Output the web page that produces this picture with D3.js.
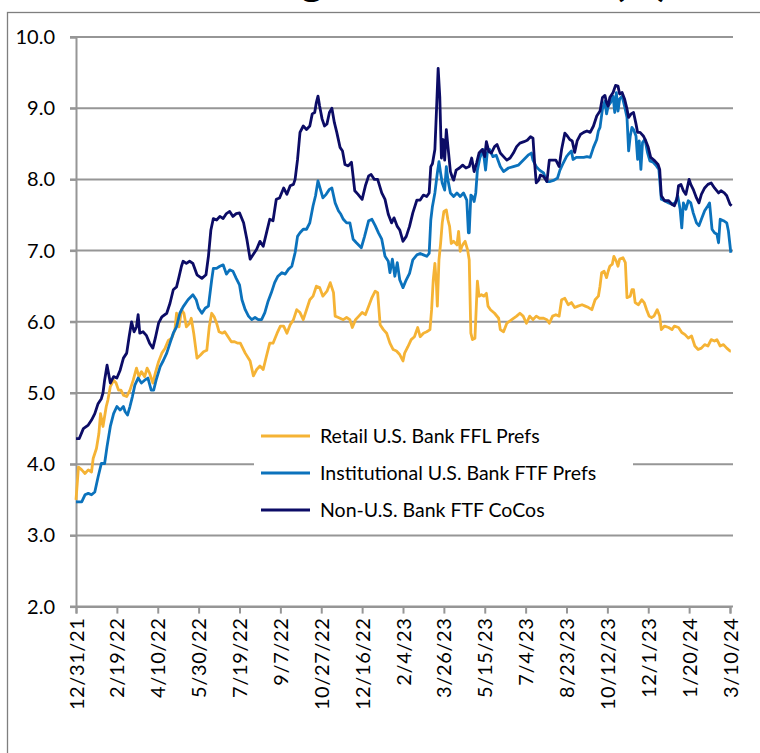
<!doctype html>
<html lang="en">
<head>
  <meta charset="utf-8">
  <title>Average yield chart</title>
  <style>
    * { margin: 0; padding: 0; box-sizing: border-box; }
    body { background: #fff; }
    svg { display: block; font-family: Lato, "Open Sans", sans-serif; }
  </style>
</head>
<body>
  <div id="container"></div>
  <script src="https://cdn.jsdelivr.net/npm/d3@7"></script>
  <script>
    // days since 12/31/21, value in %
    const startDate = new Date(Date.UTC(2021, 11, 31));

    const seriesNames = ['Retail U.S. Bank FFL Prefs', 'Institutional U.S. Bank FTF Prefs', 'Non-U.S. Bank FTF CoCos'];
    const seriesColors = ['#f5b335', '#0b72bc', '#0c0c66'];

    const yTicks = [2, 3, 4, 5, 6, 7, 8, 9, 10];
    const xTickDays = d3.range(0, 801, 50);

    const retail = [
      [0,3.50],[3,3.96],[7,3.92],[11,3.87],[15,3.92],[19,3.89],[21,4.08],[25,4.22],[28,4.43],[30,4.71],[33,4.53],[37,4.81],[39,4.90],[42,5.09],[46,5.18],[49,5.14],[52,5.04],[55,5.04],[58,4.97],[62,4.95],[66,5.04],[70,5.18],[74,5.35],[77,5.23],[80,5.30],[84,5.23],[87,5.35],[90,5.28],[94,5.14],[97,5.28],
      [101,5.44],[105,5.56],[109,5.63],[113,5.74],[117,5.77],[121,5.89],[123,6.12],[126,5.93],[129,6.17],[132,6.12],[135,5.93],[139,5.98],[141,6.05],[144,5.84],[148,5.49],[152,5.53],[156,5.58],[160,5.60],[163,5.93],[166,6.12],[169,6.07],[172,5.98],[175,5.86],[179,5.84],[182,5.86],[186,5.79],[190,5.72],[194,5.72],[198,5.70],
      [201,5.70],[207,5.56],[213,5.45],[217,5.24],[221,5.33],[225,5.38],[229,5.33],[233,5.52],[237,5.70],[241,5.70],[246,5.84],[250,5.94],[254,5.94],[258,5.84],[262,5.96],[266,6.03],[270,6.17],[274,6.13],[278,6.03],[282,6.17],[286,6.31],[290,6.36],[294,6.50],[298,6.48],
      [302,6.36],[307,6.43],[311,6.55],[315,6.41],[317,6.08],[321,6.06],[327,6.03],[331,6.06],[335,6.03],[338,5.92],[342,6.03],[346,6.08],[350,6.13],[354,6.10],[358,6.22],[362,6.34],[366,6.43],[369,6.41],[372,5.96],[376,5.89],[380,5.84],[384,5.70],[388,5.61],[392,5.59],[396,5.54],
      [400,5.45],[402,5.56],[406,5.65],[410,5.75],[414,5.79],[418,5.92],[421,5.79],[425,5.84],[429,5.86],[433,5.89],[435,6.17],[437,6.59],[439,6.82],[441,6.50],[442,6.22],[444,6.87],[446,7.10],[448,7.39],[450,7.55],[453,7.57],[455,7.43],[457,7.34],[459,7.10],[462,7.13],[466,7.08],[468,7.27],[470,6.99],[472,7.06],[474,7.10],[476,7.13],[479,7.01],[481,6.87],[483,5.84],[485,5.75],[488,5.77],[491,6.57],[493,6.36],[496,6.38],[499,6.36],
      [502,6.40],[504,6.22],[507,6.17],[512,6.12],[517,6.05],[519,5.89],[523,5.86],[527,5.98],[533,6.03],[539,6.08],[543,6.12],[547,6.08],[551,5.98],[555,6.08],[559,6.03],[563,6.08],[567,6.05],[572,6.05],[576,6.03],[579,5.98],[583,6.08],[587,6.10],[591,6.08],[594,6.31],[598,6.33],
      [602,6.24],[606,6.27],[610,6.20],[614,6.22],[619,6.24],[623,6.22],[627,6.20],[631,6.17],[635,6.31],[639,6.36],[641,6.50],[643,6.69],[646,6.71],[649,6.62],[651,6.71],[653,6.78],[656,6.81],[658,6.92],[661,6.85],[663,6.78],[665,6.88],[669,6.90],[672,6.83],[674,6.34],[678,6.36],[680,6.45],[682,6.45],[684,6.27],[688,6.24],[692,6.31],[695,6.27],[698,6.17],
      [701,6.08],[704,6.06],[707,6.08],[711,6.17],[714,6.08],[716,5.89],[720,5.94],[725,5.92],[729,5.89],[732,5.94],[737,5.92],[741,5.85],[745,5.82],[749,5.77],[753,5.80],[757,5.66],[761,5.61],[765,5.63],[769,5.68],[773,5.66],[777,5.75],[781,5.73],[784,5.75],[788,5.66],[792,5.68],[796,5.63],[800,5.59],[801,5.59]
    ];

    const institutional = [
      [0,3.47],[7,3.47],[11,3.57],[15,3.59],[19,3.57],[23,3.61],[27,3.82],[31,4.01],[35,4.01],[38,4.25],[42,4.53],[46,4.71],[50,4.81],[54,4.76],[58,4.81],[60,4.74],[63,4.69],[66,4.81],[69,4.95],[72,5.11],[76,5.21],[80,5.14],[84,5.18],[88,5.21],[92,5.04],[95,5.04],[98,5.18],
      [103,5.37],[107,5.46],[111,5.56],[115,5.70],[119,5.84],[123,5.93],[127,6.12],[131,6.21],[137,6.31],[143,6.38],[147,6.31],[150,6.19],[154,6.12],[158,6.19],[162,6.22],[166,6.59],[168,6.75],[172,6.75],[176,6.78],[180,6.80],[184,6.67],[188,6.73],[192,6.71],[196,6.61],
      [200,6.52],[203,6.31],[207,6.17],[211,6.08],[215,6.03],[219,6.06],[223,6.03],[227,6.03],[231,6.13],[235,6.29],[239,6.41],[243,6.55],[247,6.64],[252,6.69],[256,6.67],[260,6.74],[264,6.78],[268,6.97],[271,7.20],[274,7.25],[278,7.30],[282,7.30],[286,7.39],[290,7.63],[293,7.77],[296,7.98],[299,7.86],
      [302,7.74],[306,7.79],[310,7.86],[313,7.88],[317,7.67],[321,7.56],[324,7.51],[327,7.44],[331,7.39],[335,7.39],[339,7.16],[343,7.11],[349,7.04],[353,7.20],[358,7.42],[362,7.44],[366,7.35],[370,7.25],[374,7.16],[378,6.92],[382,6.85],[384,6.69],[387,6.88],[390,6.64],[393,6.83],[396,6.59],
      [400,6.48],[404,6.59],[408,6.68],[412,6.87],[417,6.94],[421,6.96],[425,6.94],[429,6.92],[432,6.96],[434,7.43],[436,7.62],[439,7.81],[442,8.09],[444,8.25],[446,8.09],[448,7.95],[451,7.85],[453,8.18],[455,7.99],[458,7.81],[462,7.76],[466,7.81],[470,7.76],[474,7.81],[478,7.71],[480,7.25],[481,7.25],[483,7.78],[485,7.76],[487,7.69],[489,7.81],[491,8.13],[494,8.30],[498,8.42],
      [501,8.13],[503,8.37],[506,8.42],[510,8.32],[514,8.34],[519,8.18],[523,8.11],[529,8.16],[535,8.18],[541,8.20],[547,8.27],[553,8.34],[557,8.37],[559,8.27],[563,8.18],[567,8.13],[572,8.09],[576,7.97],[580,7.97],[585,7.99],[589,8.02],[592,8.13],[596,8.23],
      [600,8.32],[602,8.35],[606,8.40],[608,8.28],[612,8.31],[617,8.31],[621,8.31],[625,8.32],[629,8.31],[633,8.45],[637,8.56],[639,8.68],[641,8.73],[644,8.99],[647,9.10],[649,8.92],[651,9.03],[654,9.08],[657,9.17],[659,8.94],[661,9.22],[663,8.96],[665,9.13],[668,9.17],[671,9.03],[674,8.87],[676,8.40],[678,8.61],[680,8.73],[682,8.70],[685,8.61],[687,8.28],[689,8.54],[691,8.14],[693,8.52],[696,8.56],[699,8.38],
      [702,8.26],[706,8.24],[710,8.19],[713,8.14],[716,7.72],[720,7.70],[725,7.67],[729,7.65],[733,7.67],[736,7.77],[739,7.58],[741,7.32],[743,7.67],[746,7.58],[749,7.70],[752,7.67],[755,7.53],[759,7.39],[762,7.35],[765,7.44],[769,7.56],[773,7.63],[775,7.67],[778,7.30],[781,7.25],[784,7.23],[786,7.11],[788,7.44],[792,7.42],[796,7.39],[798,7.28],[801,6.97]
    ];

    const nonUsCocos = [
      [0,4.36],[4,4.36],[9,4.50],[15,4.55],[19,4.62],[23,4.71],[27,4.85],[31,4.92],[33,5.00],[35,5.18],[38,5.39],[42,5.14],[46,5.23],[50,5.21],[54,5.32],[58,5.49],[62,5.56],[65,5.79],[68,6.00],[71,5.86],[74,5.93],[76,6.10],[78,5.84],[82,5.86],[86,5.81],[90,5.70],[94,5.63],[97,5.77],
      [101,5.98],[105,6.07],[111,6.12],[115,6.26],[119,6.45],[123,6.49],[126,6.63],[129,6.78],[131,6.85],[135,6.82],[139,6.85],[143,6.82],[148,6.66],[154,6.61],[159,6.66],[162,6.92],[165,7.29],[168,7.45],[172,7.43],[176,7.48],[180,7.45],[184,7.52],[188,7.55],[192,7.48],[196,7.52],
      [200,7.53],[205,7.39],[209,7.16],[213,6.88],[217,6.95],[221,7.02],[225,7.13],[229,7.06],[233,7.25],[237,7.44],[241,7.42],[245,7.72],[249,7.74],[254,7.88],[258,7.79],[262,7.91],[266,7.93],[268,8.00],[271,8.28],[274,8.66],[278,8.75],[282,8.70],[286,8.75],[289,8.92],[292,8.94],[294,9.08],[296,9.17],[298,9.03],
      [301,8.85],[304,8.75],[307,8.78],[310,8.94],[313,9.00],[316,8.80],[319,8.66],[323,8.45],[326,8.40],[329,8.21],[333,8.19],[337,8.24],[341,7.84],[345,7.79],[350,7.72],[354,7.91],[358,8.05],[361,8.07],[365,8.00],[369,8.00],[374,7.81],[378,7.72],[382,7.51],[386,7.39],[389,7.46],[393,7.34],[396,7.29],
      [400,7.13],[404,7.20],[408,7.34],[412,7.53],[417,7.71],[421,7.71],[425,7.78],[429,7.76],[432,7.81],[434,8.18],[436,8.22],[439,8.42],[441,8.98],[443,9.56],[445,9.16],[447,8.30],[449,8.56],[451,8.27],[453,8.70],[455,8.46],[458,8.11],[460,8.04],[462,7.99],[465,8.13],[469,8.16],[473,8.20],[477,8.16],[481,8.18],[484,8.30],[487,8.11],[490,8.23],[493,8.37],[497,8.42],
      [500,8.32],[502,8.53],[505,8.39],[508,8.37],[512,8.46],[515,8.49],[519,8.37],[523,8.32],[527,8.27],[531,8.30],[535,8.37],[539,8.46],[543,8.51],[548,8.53],[552,8.55],[556,8.60],[559,8.58],[561,8.23],[563,7.95],[566,7.99],[568,8.06],[572,8.04],[576,7.97],[579,8.27],[583,8.27],[587,8.27],[591,8.18],[594,8.42],[598,8.65],
      [601,8.61],[604,8.56],[607,8.54],[610,8.38],[613,8.54],[617,8.63],[621,8.66],[625,8.68],[629,8.66],[633,8.75],[637,8.89],[641,8.96],[644,9.15],[647,9.18],[649,9.08],[651,9.03],[653,9.15],[657,9.22],[660,9.32],[663,9.31],[665,9.20],[668,9.22],[671,9.13],[674,8.99],[676,8.87],[679,8.92],[682,8.94],[685,8.78],[687,8.66],[690,8.66],[694,8.61],[697,8.54],
      [700,8.45],[703,8.31],[708,8.26],[712,8.21],[714,8.14],[716,7.77],[720,7.70],[725,7.70],[729,7.65],[732,7.63],[735,7.72],[737,7.91],[740,7.93],[743,7.84],[746,7.79],[750,8.00],[752,7.93],[755,7.86],[759,7.74],[762,7.67],[765,7.79],[769,7.88],[773,7.93],[777,7.95],[781,7.88],[786,7.81],[789,7.84],[793,7.81],[796,7.77],[800,7.65],[802,7.63]
    ];

    const series = [retail, institutional, nonUsCocos];

    const W = 760, H = 753;
    const plot = { left: 76, right: 730, top: 37, bottom: 606.6 };

    const svg = d3.select('#container').append('svg')
      .attr('width', W)
      .attr('height', H);

    const dayToDate = d => d3.utcDay.offset(startDate, d);

    const x = d3.scaleUtc()
      .domain([startDate, dayToDate(800)])
      .range([plot.left, plot.right]);

    const y = d3.scaleLinear()
      .domain([2, 10])
      .range([plot.bottom, plot.top]);

    // title, cropped at the top edge as in the source image
    svg.append('text')
      .attr('x', 200)
      .attr('y', -3)
      .attr('textLength', 468)
      .attr('lengthAdjust', 'spacingAndGlyphs')
      .attr('font-size', 32)
      .attr('font-weight', 'bold')
      .attr('fill', '#000')
      .text('Average Yield to Worst (%)');

    // chart frame
    svg.append('rect')
      .attr('x', 7.5)
      .attr('y', 12.5)
      .attr('width', 800)
      .attr('height', 800)
      .attr('fill', 'none')
      .attr('stroke', '#7f7f7f')
      .attr('stroke-width', 1.3);

    // gridlines
    svg.append('g')
      .selectAll('line')
      .data(yTicks)
      .join('line')
      .attr('x1', plot.left - 6)
      .attr('x2', plot.right + 3)
      .attr('y1', d => y(d))
      .attr('y2', d => y(d))
      .attr('stroke', '#969696')
      .attr('stroke-width', 2);

    // y axis
    const yAxis = svg.append('g')
      .attr('transform', `translate(${plot.left},0)`)
      .call(d3.axisLeft(y).tickValues(yTicks).tickFormat(d3.format('.1f')).tickSize(6).tickPadding(15));
    yAxis.select('.domain').attr('stroke', '#969696').attr('stroke-width', 2);
    yAxis.selectAll('.tick line').attr('stroke', '#969696').attr('stroke-width', 2);
    yAxis.selectAll('.tick text')
      .attr('font-size', 20)
      .attr('font-family', 'Lato, sans-serif')
      .attr('fill', '#000');

    // x axis
    const xAxis = svg.append('g')
      .attr('transform', `translate(0,${plot.bottom})`)
      .call(d3.axisBottom(x).tickValues(xTickDays.map(dayToDate)).tickFormat(d3.utcFormat('%-m/%-d/%y')).tickSizeOuter(0).tickSize(7));
    xAxis.select('.domain').attr('stroke', '#969696').attr('stroke-width', 2);
    xAxis.selectAll('.tick line').attr('stroke', '#969696').attr('stroke-width', 2);
    xAxis.selectAll('.tick text')
      .attr('font-size', 20)
      .attr('font-family', 'Lato, sans-serif')
      .attr('fill', '#000')
      .attr('letter-spacing', 0.6)
      .attr('text-anchor', 'end')
      .attr('dy', '0.35em')
      .attr('transform', 'translate(0,11) rotate(-90)')
      .attr('x', 0)
      .attr('y', 0);

    // lines
    const line = d3.line()
      .x(d => x(dayToDate(d[0])))
      .y(d => y(d[1]));

    svg.append('g')
      .selectAll('path')
      .data(series)
      .join('path')
      .attr('d', line)
      .attr('fill', 'none')
      .attr('stroke', (d, i) => seriesColors[i])
      .attr('stroke-width', 2.8)
      .attr('stroke-linejoin', 'round');

    // legend
    const legend = svg.append('g');
    legend.append('rect')
      .attr('x', 254)
      .attr('y', 418)
      .attr('width', 379)
      .attr('height', 112)
      .attr('fill', '#fff');

    const items = legend.selectAll('g.item')
      .data(seriesNames)
      .join('g')
      .attr('class', 'item')
      .attr('transform', (d, i) => `translate(261,${436 + i * 37})`);
    items.append('line')
      .attr('x1', 0).attr('x2', 49)
      .attr('stroke', (d, i) => seriesColors[i])
      .attr('stroke-width', 2.8);
    items.append('text')
      .attr('x', 59)
      .attr('dy', '0.35em')
      .attr('font-size', 19.5)
      .attr('fill', '#000')
      .text(d => d);
  </script>
</body>
</html>
